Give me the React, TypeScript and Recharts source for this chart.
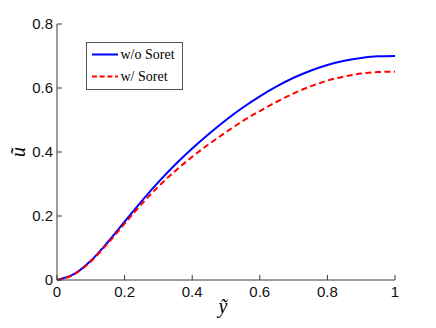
import React from 'react';
import { LineChart, Line, XAxis, YAxis, Legend, Label } from 'recharts';

// data
const yTilde = [0, 0.05, 0.1, 0.15, 0.2, 0.25, 0.3, 0.35, 0.4, 0.45, 0.5, 0.55, 0.6, 0.65, 0.7, 0.75, 0.8, 0.85, 0.9, 0.95, 1.0];
const uNoSoret = [0, 0.018, 0.06, 0.118, 0.182, 0.246, 0.306, 0.361, 0.411, 0.457, 0.5, 0.539, 0.574, 0.605, 0.632, 0.654, 0.672, 0.685, 0.694, 0.699, 0.7];
const uSoret = [0, 0.017, 0.058, 0.114, 0.176, 0.237, 0.292, 0.341, 0.385, 0.425, 0.462, 0.497, 0.528, 0.557, 0.583, 0.605, 0.623, 0.636, 0.645, 0.65, 0.651];
const xTicks = [0, 0.2, 0.4, 0.6, 0.8, 1];
const yTicks = [0, 0.2, 0.4, 0.6, 0.8];
const seriesNames = ['w/o Soret', 'w/ Soret'];

const data = yTilde.map((y, i) => ({ y, a: uNoSoret[i], b: uSoret[i] }));

const AXIS = '#3a3a3a';
const TICK_FONT = { fontFamily: '"Liberation Sans", Arial, sans-serif', fontSize: 15, fill: '#111' };
const fmt = (v: number) => String(v);

const BottomTick = (props: any) => {
  const { x, y, payload } = props;
  return (
    <g>
      <line x1={x} x2={x} y1={y - 6} y2={y - 11} stroke={AXIS} />
      <text x={x} y={y} dy="0.71em" textAnchor="middle" {...TICK_FONT}>{fmt(payload.value)}</text>
    </g>
  );
};

const LeftTick = (props: any) => {
  const { x, y, payload } = props;
  return (
    <g>
      <line x1={x + 4} x2={x + 9} y1={y} y2={y} stroke={AXIS} />
      <text x={x} y={y} dy="0.355em" textAnchor="end" {...TICK_FONT}>{fmt(payload.value)}</text>
    </g>
  );
};

const TopTick = (props: any) => {
  const { x, y } = props;
  return <line x1={x} x2={x} y1={y} y2={y + 5} stroke={AXIS} />;
};

const RightTick = (props: any) => {
  const { x, y } = props;
  return <line x1={x} x2={x - 5} y1={y} y2={y} stroke={AXIS} />;
};

const LegendBox = () => (
  <svg width={98} height={49} style={{ display: 'block' }}>
    <rect x={0.5} y={0.5} width={96} height={47} fill="#fff" stroke="#555" />
    <line x1={6} x2={32} y1={12.5} y2={12.5} stroke="#0000ff" strokeWidth={2} />
    <text x={34.5} y={16.5} fontFamily='"Liberation Serif", "Times New Roman", serif' fontSize={14} fill="#000">{seriesNames[0]}</text>
    <line x1={6} x2={32} y1={34.5} y2={34.5} stroke="#ff0000" strokeWidth={2} strokeDasharray="5 2.7" />
    <text x={34.5} y={38.5} fontFamily='"Liberation Serif", "Times New Roman", serif' fontSize={14} fill="#000">{seriesNames[1]}</text>
  </svg>
);

export default function App() {
  return (
    <div style={{ position: 'absolute', left: 0, top: 0, background: '#fff' }}>
      <LineChart width={436} height={328} data={data} margin={{ top: 24, right: 41, bottom: 0, left: 0 }}>
        <XAxis
          dataKey="y"
          type="number"
          domain={[0, 1]}
          ticks={xTicks}
          height={48}
          tickSize={0}
          tickMargin={6}
          tickLine={false}
          axisLine={{ stroke: AXIS }}
          tick={<BottomTick />}
          interval={0}
        >
          <Label
            content={(p: any) => {
              const vb = p.viewBox;
              return (
                <text x={vb.x + vb.width / 2 - 3} y={313} textAnchor="middle" fontFamily='"Liberation Serif", "Times New Roman", serif' fontStyle="italic" fontSize={20} fill="#000">ỹ</text>
              );
            }}
          />
        </XAxis>
        <XAxis
          xAxisId="top"
          orientation="top"
          dataKey="y"
          type="number"
          domain={[0, 1]}
          ticks={xTicks}
          height={0}
          tickSize={0}
          tickMargin={0}
          tickLine={false}
          axisLine={{ stroke: AXIS }}
          tick={<TopTick />}
          interval={0}
        />
        <YAxis
          type="number"
          domain={[0, 0.8]}
          ticks={yTicks}
          width={57}
          tickSize={0}
          tickMargin={4}
          tickLine={false}
          axisLine={{ stroke: AXIS }}
          tick={<LeftTick />}
          interval={0}
        >
          <Label
            content={(p: any) => {
              const vb = p.viewBox;
              const cy = vb.y + vb.height / 2;
              return (
                <text x={25} y={cy} transform={`rotate(-90 25 ${cy})`} textAnchor="middle" fontFamily='"Liberation Serif", "Times New Roman", serif' fontStyle="italic" fontSize={20} fill="#000">ũ</text>
              );
            }}
          />
        </YAxis>
        <YAxis
          yAxisId="r"
          orientation="right"
          type="number"
          domain={[0, 0.8]}
          ticks={yTicks}
          width={0}
          tickSize={0}
          tickMargin={0}
          tickLine={false}
          axisLine={{ stroke: AXIS }}
          tick={<RightTick />}
          interval={0}
        />
        <Legend
          layout="vertical"
          align="center"
          verticalAlign="middle"
          content={() => <LegendBox />}
          wrapperStyle={{ left: 86, top: 42, width: 98, height: 49 }}
        />
        <Line type="monotone" dataKey="a" name={seriesNames[0]} stroke="#0000ff" strokeWidth={2} dot={false} isAnimationActive={false} />
        <Line type="monotone" dataKey="b" name={seriesNames[1]} stroke="#ff0000" strokeWidth={2} strokeDasharray="6 3.5" dot={false} isAnimationActive={false} />
      </LineChart>
    </div>
  );
}
